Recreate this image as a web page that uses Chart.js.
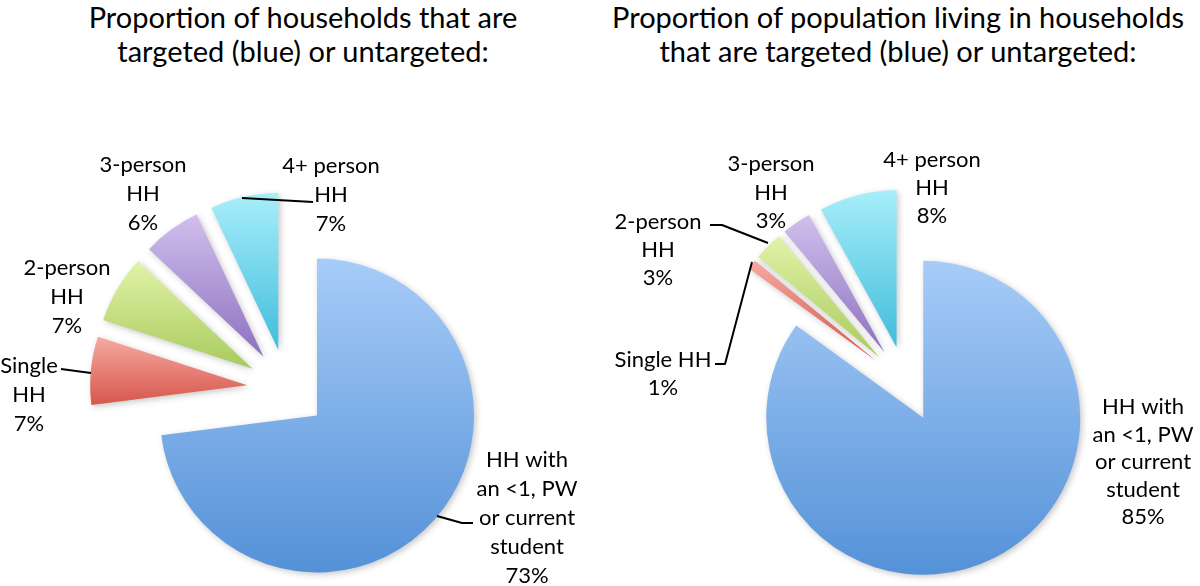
<!DOCTYPE html>
<html>
<head>
<meta charset="utf-8">
<script src="https://cdn.jsdelivr.net/npm/chart.js@4"></script>
<style>
  html, body { margin: 0; padding: 0; background: #fff; }
  body { width: 1200px; height: 586px; position: relative; overflow: hidden; font-family: Lato, "Open Sans", sans-serif; }
  .title { position: absolute; top: 0; width: 600px; text-align: center; font-size: 29px; line-height: 34px; color: #000; }
  canvas { position: absolute; top: 0; }
</style>
</head>
<body>
<div class="title" id="title1" style="left:3px">Proportion of households that are<br>targeted (blue) or untargeted:</div>
<div class="title" id="title2" style="left:598px">Proportion of population living in households<br>that are targeted (blue) or untargeted:</div>
<canvas id="pie1" width="600" height="586" style="left:0"></canvas>
<canvas id="pie2" width="600" height="586" style="left:600px"></canvas>
<script>
let categories = ['HH with an <1, PW or current student', 'Single HH', '2-person HH', '3-person HH', '4+ person HH'];
let householdShare = [73, 7, 7, 6, 7];   // % of households
let populationShare = [85, 1, 3, 3, 8];  // % of population

// how each label is broken into lines (the value line is added below)
let householdLabelLines = [['HH with', 'an <1, PW', 'or current', 'student'], ['Single', 'HH'], ['2-person', 'HH'], ['3-person', 'HH'], ['4+ person', 'HH']];
let populationLabelLines = [['HH with', 'an <1, PW', 'or current', 'student'], ['Single HH'], ['2-person', 'HH'], ['3-person', 'HH'], ['4+ person', 'HH']];

let gradTop = ['#a7ccf8', '#f6aaa2', '#e1f3a8', '#d1bfed', '#a8eefa'];
let gradBottom = ['#5491d8', '#d6554a', '#a8ca5c', '#8c70bf', '#40bcdc'];

// label placement, page coordinates: x centre, first line y, line height
let householdLabelPos = [
    {x: 527, y: 460, lh: 29},
    {x: 29, y: 366, lh: 29},
    {x: 67, y: 268, lh: 29},
    {x: 143, y: 165, lh: 29},
    {x: 331, y: 166, lh: 29}
];
let householdLeaders = [
    [[437, 516], [462, 523], [473, 523]],
    [[61, 369], [91, 373]],
    null,
    null,
    [[242, 198], [313, 202]]
];
let populationLabelPos = [
    {x: 1143, y: 407, lh: 27.5},
    {x: 663, y: 360, lh: 28},
    {x: 658, y: 222, lh: 28},
    {x: 771, y: 164, lh: 28.5},
    {x: 932, y: 160, lh: 28}
];
let populationLeaders = [
    null,
    [[715, 364], [725, 364], [752, 262]],
    [[710, 225], [722, 225], [768, 243]],
    null,
    null
];

function sliceGradient(context, radius) {//vertical gradient across one slice
    let chart = context.chart;
    let ca = chart.chartArea;
    let i = context.dataIndex;
    if (!ca) return gradTop[i];
    let values = context.dataset.data;
    let total = values.reduce((a, b) => a + b, 0);
    let before = 0;
    for (let k = 0; k < i; k++) before += values[k];
    let a0 = before / total * 2 * Math.PI - Math.PI / 2;
    let a1 = (before + values[i]) / total * 2 * Math.PI - Math.PI / 2;
    let cy = (ca.top + ca.bottom) / 2;//gradient is set before the explode shift
    let ymin = cy, ymax = cy;
    for (let s = 0; s <= 40; s++) {
        let a = a0 + (a1 - a0) * s / 40;
        let y = cy + Math.sin(a) * radius;
        ymin = Math.min(ymin, y);
        ymax = Math.max(ymax, y);
    }
    let g = chart.ctx.createLinearGradient(0, ymin, 0, ymax + 1);
    g.addColorStop(0, gradTop[i]);
    g.addColorStop(1, gradBottom[i]);
    return g;
}

// draws every slice pulled out of the centre by the same distance, with a soft shadow
function explodePlugin(explode) {
    return {
        id: 'explode',
        beforeDatasetDraw(chart, args) {
            let ctx = chart.ctx;
            args.meta.data.forEach(arc => {
                let half = (arc.startAngle + arc.endAngle) / 2;
                ctx.save();
                ctx.shadowColor = 'rgba(0,0,0,0.22)';
                ctx.shadowBlur = 6;
                ctx.shadowOffsetX = 2;
                ctx.shadowOffsetY = 2;
                ctx.translate(Math.cos(half) * explode, Math.sin(half) * explode);
                arc.draw(ctx);
                ctx.restore();
            });
            return false;
        }
    };
}

function labelPlugin(lines, values, pos, leaders, pageLeft) {
    return {
        id: 'sliceLabels',
        afterDraw(chart) {
            let ctx = chart.ctx;
            ctx.save();
            ctx.strokeStyle = '#000';
            ctx.lineWidth = 2;
            ctx.lineJoin = 'round';
            leaders.forEach(pts => {
                if (!pts) return;
                ctx.beginPath();
                pts.forEach((p, k) => {
                    if (k === 0) ctx.moveTo(p[0] - pageLeft, p[1]);
                    else ctx.lineTo(p[0] - pageLeft, p[1]);
                });
                ctx.stroke();
            });
            ctx.fillStyle = '#000';
            ctx.font = '22px Lato, "Open Sans", sans-serif';
            ctx.textAlign = 'center';
            ctx.textBaseline = 'middle';
            lines.forEach((ls, i) => {
                let all = ls.concat([values[i] + '%']);
                let p = pos[i];
                all.forEach((t, k) => {
                    ctx.fillText(t, p.x - pageLeft, p.y + k * p.lh);
                });
            });
            ctx.restore();
        }
    };
}

function makePie(canvasId, values, radius, explode, padding, lines, pos, leaders, pageLeft) {
    const context = document.getElementById(canvasId).getContext('2d');
    return new Chart(context, {
        type: 'pie',
        data: {
            labels: categories,
            datasets: [{
                data: values,
                backgroundColor: c => sliceGradient(c, radius),
                borderWidth: 0,
                offset: 0,
                hoverOffset: 0,
                radius: radius
            }]
        },
        options: {
            responsive: false,
            maintainAspectRatio: false,
            animation: false,
            events: [],
            layout: { padding: padding },
            plugins: {
                legend: { display: false },
                tooltip: { enabled: false }
            }
        },
        plugins: [explodePlugin(explode), labelPlugin(lines, values, pos, leaders, pageLeft)]
    });
}

makePie('pie1', householdShare, 157, 40, {left: 0, right: 26, top: 192, bottom: 0},
    householdLabelLines, householdLabelPos, householdLeaders, 0);
makePie('pie2', populationShare, 157, 38, {left: 12, right: 0, top: 182, bottom: 0},
    populationLabelLines, populationLabelPos, populationLeaders, 600);
</script>
</body>
</html>
